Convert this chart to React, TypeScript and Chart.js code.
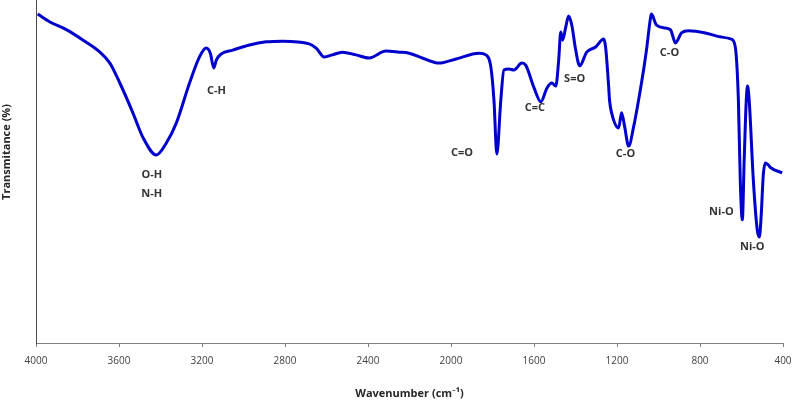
import React, { useEffect, useRef } from "react";
import { Chart, registerables } from "chart.js";

Chart.register(...registerables);

const WAVENUMBERS = [
  3992, 3933, 3852, 3773, 3692, 3644, 3596, 3533, 3486, 3420, 3372, 3324, 3260, 3212, 3180, 3160, 3143, 3131, 3107,
  3052, 2971, 2891, 2812, 2683, 2650, 2611, 2572, 2524, 2458, 2394, 2314, 2250, 2202, 2139, 2058, 1976, 1865, 1832,
  1808, 1793, 1779, 1760, 1745, 1721, 1697, 1659, 1640, 1601, 1567, 1538, 1514, 1495, 1481, 1471, 1462, 1447, 1433,
  1418, 1399, 1380, 1346, 1303, 1264, 1255, 1240, 1236, 1226, 1192, 1178, 1163, 1144, 1120, 1096, 1072, 1058, 1038,
  1034, 1010, 966, 942, 918, 889, 856, 774, 697, 649, 630, 615, 606, 596, 587, 577, 571, 563, 543, 524, 514, 505, 495,
  485, 471, 457, 404,
];

const TRANSMITTANCE = [
  95.9, 93.6, 91.3, 88.3, 84.8, 81.6, 75.8, 67.1, 60.1, 54.8, 58.3, 64.1, 75.8, 83.4, 86.0, 84.5, 80.2, 82.5, 84.3,
  85.4, 86.9, 87.8, 88.0, 87.2, 86.0, 83.4, 84.0, 84.8, 84.0, 83.1, 85.1, 84.8, 84.5, 83.1, 81.6, 82.8, 84.5, 84.0,
  80.5, 70.8, 55.1, 70.8, 79.6, 79.9, 79.6, 81.6, 81.0, 74.6, 70.3, 74.3, 75.8, 74.9, 82.5, 90.7, 88.3, 92.1, 95.3,
  92.7, 85.4, 80.8, 84.8, 86.3, 88.6, 86.3, 74.6, 70.8, 67.1, 62.7, 67.1, 63.0, 57.4, 63.0, 70.8, 79.6, 85.4, 95.0,
  95.9, 92.7, 91.8, 91.3, 87.5, 90.4, 91.0, 90.4, 89.2, 88.6, 86.3, 70.8, 47.5, 35.9, 53.4, 70.8, 74.9, 70.8, 47.5,
  32.9, 30.9, 37.3, 49.0, 52.5, 51.9, 51.0, 49.6,
];

const X_TICKS = [4000, 3600, 3200, 2800, 2400, 2000, 1600, 1200, 800, 400];

const ANNOTATION_LABELS = ["O-H", "N-H", "C-H", "C=O", "C=C", "S=O", "C-O", "C-O", "Ni-O", "Ni-O"];
const ANNOTATION_WAVENUMBERS = [3442, 3442, 3130, 1947, 1596, 1404, 1159, 947, 697, 548];
const ANNOTATION_VALUES = [49.0, 43.4, 73.5, 55.4, 68.5, 77.0, 55.1, 84.5, 38.2, 28.0];

const X_TITLE = "Wavenumber (cm\u207B\u00B9)";
const Y_TITLE = "Transmitance (%)";

const FONT = "'Open Sans', Lato, sans-serif";

export default function App() {
  const ref = useRef<HTMLCanvasElement | null>(null);

  useEffect(() => {
    document.body.style.margin = "0";
    const canvas = ref.current;
    if (!canvas) return;

    const labelPlugin = {
      id: "labels",
      afterDatasetsDraw(chart: any) {
        const { ctx, scales, chartArea } = chart;
        ctx.save();
        ctx.fillStyle = "#333333";
        ctx.font = `bold 11px ${FONT}`;
        ctx.textAlign = "center";
        ctx.textBaseline = "middle";
        ANNOTATION_LABELS.forEach((t, i) => {
          const x = scales.x.getPixelForValue(ANNOTATION_WAVENUMBERS[i]);
          const y = scales.y.getPixelForValue(ANNOTATION_VALUES[i]);
          ctx.fillText(t, x, y);
        });
        // y-axis title
        ctx.fillStyle = "#262626";
        ctx.font = `bold 11px ${FONT}`;
        ctx.translate(chartArea.left - 29, chartArea.top + (chartArea.bottom - chartArea.top) * 0.443);
        ctx.rotate(-Math.PI / 2);
        ctx.fillText(Y_TITLE, 0, 0);
        ctx.restore();
      },
    };

    const chart = new Chart(canvas, {
      type: "line",
      data: {
        datasets: [
          {
            data: WAVENUMBERS.map((w, i) => ({ x: w, y: TRANSMITTANCE[i] })),
            borderColor: "#0000CC",
            borderWidth: 3,
            pointRadius: 0,
            fill: false,
            cubicInterpolationMode: "monotone",
          },
        ],
      },
      options: {
        responsive: false,
        animation: false,
        events: [],
        layout: { padding: { left: 36, right: 10, top: 0, bottom: 0 } },
        plugins: { legend: { display: false }, tooltip: { enabled: false } },
        scales: {
          x: {
            type: "linear",
            reverse: true,
            min: 400,
            max: 4000,
            afterBuildTicks: (axis: any) => {
              axis.ticks = X_TICKS.map((v) => ({ value: v }));
            },
            afterFit: (axis: any) => {
              axis.height = 57;
              axis.paddingLeft = 0;
              axis.paddingRight = 0;
            },
            ticks: {
              color: "#404040",
              font: { family: FONT, size: 10 },
              padding: 8,
              maxRotation: 0,
              autoSkip: false,
              callback: (v: any) => String(v),
            },
            grid: { drawOnChartArea: false, drawTicks: true, tickLength: 4, color: "#7f7f7f" },
            border: { display: true, color: "#7f7f7f", width: 1 },
            title: {
              display: true,
              text: X_TITLE,
              color: "#262626",
              font: { family: FONT, size: 11, weight: "bold" },
              padding: { top: 0, bottom: 0 },
            },
          },
          y: {
            min: 0,
            max: 100,
            afterFit: (axis: any) => {
              axis.width = 0;
              axis.paddingTop = 0;
              axis.paddingBottom = 0;
            },
            ticks: { display: false },
            grid: { display: false, drawTicks: false },
            border: { display: true, color: "#4d4d4d", width: 1 },
          },
        },
      },
      plugins: [labelPlugin],
    });

    return () => chart.destroy();
  }, []);

  return (
    <div style={{ position: "absolute", left: 0, top: 0, width: 793, height: 400 }}>
      <canvas ref={ref} width={793} height={400} />
    </div>
  );
}
